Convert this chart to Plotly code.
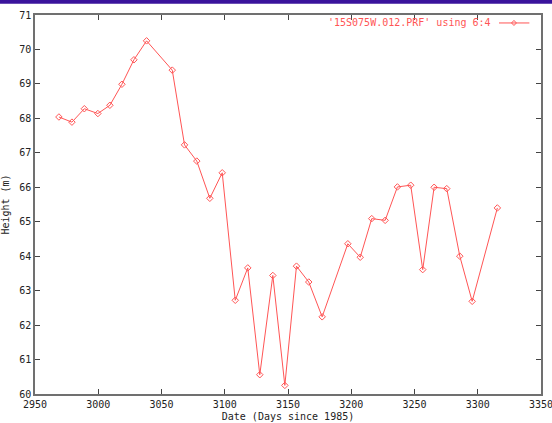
import plotly.graph_objects as go

days = [2968.9, 2979.2, 2989.0, 2999.7, 3009.2, 3018.7, 3028.2, 3038.2, 3058.5, 3068.2,
        3077.9, 3088.2, 3098.0, 3108.3, 3118.2, 3127.7, 3138.0, 3147.5, 3156.7, 3166.4,
        3177.0, 3197.3, 3207.1, 3216.2, 3226.8, 3236.5, 3247.0, 3256.5, 3265.5, 3275.5,
        3285.8, 3295.6, 3315.5]
height = [68.04, 67.89, 68.28, 68.14, 68.38, 68.99, 69.70, 70.25, 69.40, 67.23,
          66.76, 65.68, 66.42, 62.72, 63.66, 60.56, 63.44, 60.25, 63.71, 63.25,
          62.24, 64.36, 63.97, 65.09, 65.04, 66.01, 66.06, 63.61, 66.00, 65.96,
          64.00, 62.69, 65.40]
series_name = "'15S075W.012.PRF' using 6:4"
x_ticks = [2950, 3000, 3050, 3100, 3150, 3200, 3250, 3300, 3350]
y_ticks = [60, 61, 62, 63, 64, 65, 66, 67, 68, 69, 70, 71]

RED = "#ff5555"
FONT = dict(family="DejaVu Sans Mono", size=10, color="#222222")

fig = go.Figure()
fig.add_trace(go.Scatter(
    x=days, y=height, mode="lines+markers", name=series_name,
    line=dict(color=RED, width=1),
    marker=dict(symbol="diamond-open", size=5, color=RED, line=dict(width=1, color=RED)),
    showlegend=False,
))

axis_common = dict(
    showgrid=False, zeroline=False, showline=True, linecolor="#707070", linewidth=1.5,
    mirror="allticks", ticks="inside", ticklen=5, tickcolor="#444444", tickwidth=1,
    tickfont=FONT, automargin=False, ticklabeloverflow="allow",
)
fig.update_xaxes(range=[2950, 3350], tickvals=x_ticks, ticktext=[str(v) for v in x_ticks],
                 title=dict(text="Date (Days since 1985)", font=FONT, standoff=4), **axis_common)
fig.update_yaxes(range=[60, 71], tickvals=y_ticks, ticktext=[str(v) for v in y_ticks],
                 title=dict(text="Height (m)", font=FONT, standoff=8), **axis_common)

# blue bar across the top of the page
fig.add_shape(type="rect", xref="paper", yref="paper", x0=-0.08, x1=1.05,
              y0=1.030, y1=1.045, fillcolor="#3a139c", line=dict(width=0), layer="above")

# gnuplot-style key: text, then sample line with marker
fig.add_annotation(xref="paper", yref="paper", x=0.905, y=0.979, xanchor="right", yanchor="middle",
                   text=series_name, showarrow=False, font=dict(family="DejaVu Sans Mono", size=10, color=RED))
fig.add_shape(type="line", xref="paper", yref="paper", x0=0.917, x1=0.977, y0=0.979, y1=0.979,
              line=dict(color=RED, width=1))
fig.add_shape(type="path", xref="paper", yref="paper",
              path="M 0.9466 0.9855 L 0.9516 0.979 L 0.9466 0.9725 L 0.9416 0.979 Z",
              line=dict(color=RED, width=1))

fig.update_layout(
    width=552, height=423,
    margin=dict(l=35, r=11, t=15, b=29),
    paper_bgcolor="white", plot_bgcolor="white",
    font=FONT,
)
fig.write_html("out.html", config={"displayModeBar": False},
               post_script="document.body.style.margin='0';document.body.style.overflow='hidden';")
